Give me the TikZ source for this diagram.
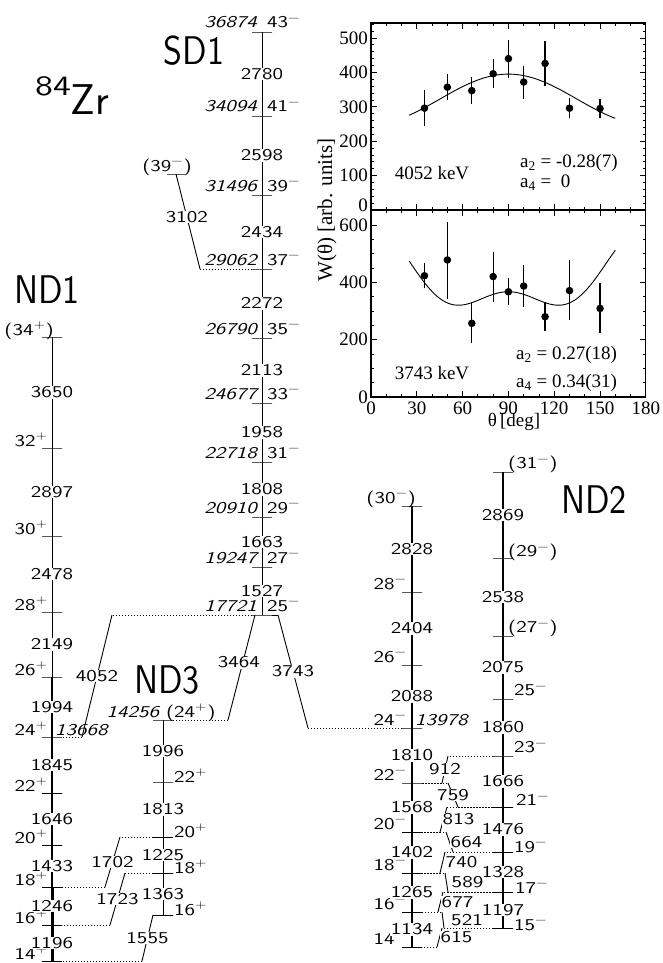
\documentclass[tikz,border=0pt]{standalone}
\usepackage{fontspec}
\usepackage{graphicx}
\newfontfamily\lvlfont[ItalicFont=lmsans12-oblique.otf]{lmsans12-regular.otf}
\newfontfamily\bandfont[FakeStretch=0.85]{lmsans10-regular.otf}
\newfontfamily\zrfont{lmsans17-regular.otf}
\newfontfamily\plotfont{Liberation Serif}
\newcommand\spm{\textsuperscript{−}}
\newcommand\spp{\textsuperscript{+}}
\newsavebox{\widebox}
\tikzset{
  wide/.style={execute at begin node={\begin{lrbox}{\widebox}},
    execute at end node={\end{lrbox}\scalebox{1.3}[1]{\usebox{\widebox}}}},
  lvl/.style={draw,line width=0.9pt,minimum width=20pt,minimum height=0pt,inner sep=0pt,outer sep=0pt},
  en/.style={wide,font=\lvlfont\itshape\fontsize{16.5}{18}\selectfont,inner sep=1pt},
  sp/.style={wide,font=\lvlfont\fontsize{16.5}{18}\selectfont,inner sep=1pt},
  tr/.style={wide,font=\lvlfont\fontsize{16.5}{18}\selectfont,fill=white,inner sep=0.5pt},
  band/.style={line width=#1},
  band/.default=1pt,
  gline/.style={line width=0.9pt},
  dots/.style={line width=0.8pt,dash pattern=on 0.8pt off 2.2pt},
  bandname/.style={font=\bandfont\fontsize{40}{40}\selectfont,inner sep=0pt},
  pl/.style={font=\plotfont\fontsize{19}{19}\selectfont,inner sep=1pt},
  frame/.style={line width=1.2pt},
  tk/.style={line width=0.8pt},
  err/.style={line width=1.2pt},
}
\begin{document}
\begin{tikzpicture}[x=1pt,y=-1pt]
  \useasboundingbox (0,0) rectangle (662,963);

  % SD1
  \foreach \n/\y/\e in {43/32/36874,41/116/34094,39/195/31496,37/269/29062,35/338/26790,
    33/403/24677,31/462/22718,29/517/20910,27/567/19247,25/615/17721}
  {
    \node[lvl] (s\n) at (262,\y) {};
    \node[en,anchor=base east] (se\n) at ([xshift=-4pt,yshift=4pt]s\n.center) {\e};
    \node[sp,anchor=base west] (ss\n) at ([xshift=4pt,yshift=4pt]s\n.center) {\n\spm};
  }
  \foreach \a/\b/\g in {43/41/2780,41/39/2598,39/37/2434,37/35/2272,35/33/2113,
    33/31/1958,31/29/1808,29/27/1663,27/25/1527}
    \draw[band] (s\a.center) -- node[tr] (sg\g) {\g} (s\b.center);
  \node[lvl,minimum width=18pt] (s39b) at (176,174) {};
  \node[sp] (ss39b) at (167,167) {(39\spm)};
  \coordinate (c3102) at (200,269);
  \draw[gline] (s39b.center) -- node[tr,pos=0.45] (g3102) {3102} (c3102);
  \draw[dots] (c3102) -- (s37);

  % ND1
  \foreach \n/\y/\s/\dx in {34/337/{(34\spp)}/3,32/448/32\spp/-3,30/536/30\spp/-3,
    28/612/28\spp/-3,26/677/26\spp/-3,24/737/24\spp/-3,22/793/22\spp/-3,
    20/845/20\spp/-3,18/887/18\spp/-3,16/925/16\spp/-3,14/961/14\spp/-3}
  {
    \node[lvl] (n\n) at (52,\y) {};
    \node[sp,anchor=base east] (ns\n) at ([xshift=\dx pt,yshift=2pt]n\n.center) {\s};
  }
  \foreach \a/\b/\g/\w in {34/32/3650/0.9,32/30/2897/0.9,30/28/2478/0.9,28/26/2149/1,
    26/24/1994/1.1,24/22/1845/1.8,22/20/1646/2.2,20/18/1433/2.6,18/16/1246/3,16/14/1196/3}
    \draw[band=\w pt] (n\a.center) -- node[tr] (ng\g) {\g} (n\b.center);
  \node[en,anchor=base west] (ne24) at ([xshift=2pt,yshift=2pt]n24.center) {13668};

  % ND3
  \node[lvl] (d24) at (163,720) {};
  \node[sp,anchor=base] (ds24) at ([xshift=-2pt,yshift=3pt]d24.center) {\itshape 14256 \upshape(24\spp)};
  \foreach \n/\y in {22/782,20/837,18/873,16/915}
  {
    \node[lvl] (d\n) at (163,\y) {};
    \node[sp,anchor=base west] (ds\n) at ([xshift=10pt]d\n.center) {\n\spp};
  }
  \foreach \a/\b/\g in {24/22/1996,22/20/1813,20/18/1225,18/16/1363}
    \draw[band] (d\a.center) -- node[tr] (dg\g) {\g} (d\b.center);

  % ND2
  \foreach \n/\y/\s/\dx in {30/506/{(30\spm)}/5,28/592/28\spm/-4,26/665/26\spm/-4,
    24/728/24\spm/-4,22/783/22\spm/-4,20/832/20\spm/-4,18/873/18\spm/-4,
    16/912/16\spm/-4,14/947/14\spm/-4}
  {
    \node[lvl] (a\n) at (412,\y) {};
    \node[sp,anchor=base east] (as\n) at ([xshift=\dx pt,yshift=3pt]a\n.center) {\s};
  }
  \foreach \a/\b/\g/\w in {30/28/2828/1.2,28/26/2404/1.2,26/24/2088/1.2,24/22/1810/1.6,
    22/20/1568/1.6,20/18/1402/1.6,18/16/1265/1.8,16/14/1134/1.8}
    \draw[band=\w pt] (a\a.center) -- node[tr] (ag\g) {\g} (a\b.center);
  \node[en,anchor=base west] (ae24) at ([xshift=2pt,yshift=3pt]a24.center) {13978};

  \foreach \n/\y/\s/\dx/\dy in {31/472/{(31\spm)}/4/3.5,29/558/{(29\spm)}/4/1.5,
    27/636/{(27\spm)}/4/3.5,25/699/25\spm/10/3.5,23/756/23\spm/10/3.5,21/807/21\spm/12/1.5,
    19/852/19\spm/10/0,17/892/17\spm/11/-1,15/928/15\spm/10/-2}
  {
    \node[lvl] (b\n) at (503,\y) {};
    \node[sp,anchor=base west] (bs\n) at ([xshift=\dx pt,yshift=\dy pt]b\n.center) {\s};
  }
  \foreach \a/\b/\g/\w in {31/29/2869/1.6,29/27/2538/1.6,27/25/2075/1.8,25/23/1860/2,
    23/21/1666/2.2,21/19/1476/2.2,19/17/1328/2.4,17/15/1197/2.4}
    \draw[band=\w pt] (b\a.center) -- node[tr] (bg\g) {\g} (b\b.center);

  % linking transitions inside ND2
  \foreach \u/\l/\xu/\xl/\g/\dx in {b23/a22/448/442/912/0,a22/b21/448/458/759/0,
    b21/a20/447/440/813/15,a20/b19/446/453/664/17,b19/a18/445/440/740/19,
    a18/b17/445/448/589/21,b17/a16/443/438/677/17,a16/b15/442/444/521/24,b15/a14/442/437/615/17}
  {
    \coordinate (t\g) at (\u -| \xu,0);
    \coordinate (u\g) at (\l -| \xl,0);
    \draw[dots] (\u) -- (t\g);
    \draw[gline] (t\g) -- node[tr,xshift=\dx pt] (g\g) {\g} (u\g);
    \draw[dots] (u\g) -- (\l);
  }

  % out-of-band transitions
  \coordinate (c1702a) at (120,837);
  \coordinate (c1702b) at (105,887);
  \draw[dots] (d20) -- (c1702a);
  \draw[gline] (c1702a) -- node[tr] (g1702) {1702} (c1702b);
  \draw[dots] (c1702b) -- (n18);
  \coordinate (c1723a) at (125,873);
  \coordinate (c1723b) at (110,925);
  \draw[dots] (d18) -- (c1723a);
  \draw[gline] (c1723a) -- node[tr] (g1723) {1723} (c1723b);
  \draw[dots] (c1723b) -- (n16);
  \coordinate (c1555) at (142,961);
  \draw[gline] (d16.west) -- node[tr] (g1555) {1555} (c1555);
  \draw[dots] (c1555) -- (n14);
  \coordinate (c4052a) at (112,615);
  \coordinate (c4052b) at (82,737);
  \draw[dots] (s25) -- (c4052a);
  \draw[gline] (c4052a) -- node[tr] (g4052) {4052} (c4052b);
  \draw[dots] (c4052b) -- (n24);
  \coordinate (c3464a) at (255,615);
  \coordinate (c3464b) at (228,720);
  \draw[gline] (c3464a) -- node[tr,pos=0.45,xshift=-4pt] (g3464) {3464} (c3464b);
  \draw[dots] (c3464b) -- (d24);
  \coordinate (c3743a) at (278,615);
  \coordinate (c3743b) at (308,728);
  \draw[gline] (s25.east) -- (c3743a);
  \draw[gline] (c3743a) -- node[tr] (g3743) {3743} (c3743b);
  \draw[dots] (c3743b) -- (a24);

  \node[bandname] (sd1) at (194,51) {SD1};
  \node[bandname] (nd1) at (47,290) {ND1};
  \node[bandname] (nd3) at (167,680) {ND3};
  \node[bandname] (nd2) at (594,500) {ND2};
  \node[anchor=base west,inner sep=0pt] (zr) at (35,115)
    {\lvlfont\fontsize{28}{28}\selectfont\raisebox{20pt}{\scalebox{1.3}[1]{84}}\zrfont\fontsize{43}{43}\selectfont Zr};

  % angular distributions
  \begin{scope}[shift={(371,210)},x=1.527pt,y=0.344pt]
    \draw[frame] (0,0) rectangle (180,543.6);
    \foreach \t in {0,10,...,180}
      \draw[tk] (\t,0) -- ++(0,3pt) (\t,543.6) -- ++(0,-3pt);
    \foreach \t in {0,30,...,180}
      \draw[tk] (\t,0) -- ++(0,6pt) (\t,543.6) -- ++(0,-6pt);
    \foreach \v in {0,20,...,540}
      \draw[tk] (0,\v) -- ++(3pt,0) (180,\v) -- ++(-3pt,0);
    \foreach \v in {0,100,...,500}
      \draw[tk] (0,\v) -- ++(6pt,0) (180,\v) -- ++(-6pt,0);
    \foreach \v in {100,200,...,500}
      \node[pl,anchor=east] (ta\v) at ([xshift=-2pt]0,\v) {\v};
    \node[pl,anchor=east] (ta0) at ([xshift=-2pt,yshift=5pt]0,0) {0};
    \draw[line width=0.9pt] plot[domain=25:160,samples=80] (\x,{346.5*(1-0.14*(3*pow(cos(\x),2)-1))});
    \foreach \a/\w/\e in {35/296/52,50/357/37,66/347/39,80/396/42,90/440/55,
      100/372/48,114/426/66,130/296/30,150/295/29}
    {
      \draw[err] (\a,{\w-\e}) -- (\a,{\w+\e});
      \fill (\a,\w) circle (3.8pt);
    }
  \end{scope}
  \begin{scope}[shift={(371,397)},x=1.527pt,y=0.2867pt]
    \draw[frame] (0,0) rectangle (180,652.3);
    \foreach \t in {0,10,...,180}
      \draw[tk] (\t,0) -- ++(0,3pt) (\t,652.3) -- ++(0,-3pt);
    \foreach \t in {0,30,...,180}
      \draw[tk] (\t,0) -- ++(0,6pt) (\t,652.3) -- ++(0,-6pt);
    \foreach \v in {0,50,...,650}
      \draw[tk] (0,\v) -- ++(3pt,0) (180,\v) -- ++(-3pt,0);
    \foreach \v in {0,200,...,600}
      \draw[tk] (0,\v) -- ++(6pt,0) (180,\v) -- ++(-6pt,0);
    \foreach \v in {0,200,400,600}
      \node[pl,anchor=east] (tb\v) at ([xshift=-2pt]0,\v) {\v};
    \foreach \t in {0,30,...,180}
      \node[pl,anchor=north] (tx\t) at ([yshift=-4pt]\t,0) {\t};
    \draw[line width=0.9pt] plot[domain=25:160,samples=80]
      (\x,{370*(1+0.135*(3*pow(cos(\x),2)-1)+0.0425*(35*pow(cos(\x),4)-30*pow(cos(\x),2)+3))});
    \foreach \a/\w/\lo/\hi in {35/423/379/466,50/478/341/611,66/257/187/327,80/420/332/505,
      90/367/321/414,100/387/315/460,114/280/231/330,130/371/268/478,150/309/222/397}
    {
      \draw[err] (\a,\lo) -- (\a,\hi);
      \fill (\a,\w) circle (3.8pt);
    }
  \end{scope}
  \draw[line width=2pt] (371,210) -- (646,210);
  \node[pl] (k4052) at (432,173) {4052 keV};
  \node[pl,anchor=west] (a2t) at (519,163) {a\textsubscript{2} = -0.28(7)};
  \node[pl,anchor=west] (a4t) at (519,183) {a\textsubscript{4} =\ \ 0};
  \node[pl] (k3743) at (432,373) {3743 keV};
  \node[pl,anchor=west] (a2b) at (515,355) {a\textsubscript{2} = 0.27(18)};
  \node[pl,anchor=west] (a4b) at (515,383) {a\textsubscript{4} = 0.34(31)};
  \node[pl] (xlab) at (514,422) {θ\,[deg]};
  \node[pl,rotate=90,font=\plotfont\fontsize{21}{21}\selectfont] (ylab) at (327,210) {W(θ) [arb. units]};
\end{tikzpicture}
\end{document}
